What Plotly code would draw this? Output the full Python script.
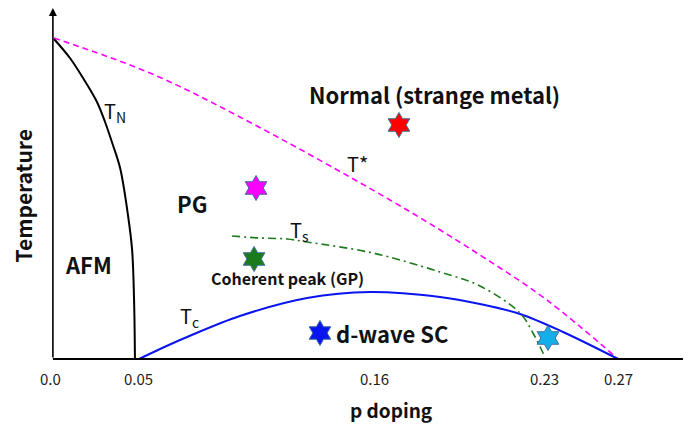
import plotly.graph_objects as go

# ---- data (doping p, temperature in arbitrary units) ----
tn_p = [0.0115, 0.0188, 0.0248, 0.0312, 0.0349, 0.0385, 0.0418, 0.0454, 0.0473, 0.0482, 0.0486]
tn_t = [320, 301, 281, 257, 237, 214, 191, 144, 109, 59, 0]

tstar_p = [0.0115, 0.0555, 0.0967, 0.1655, 0.2067, 0.2374, 0.2700]
tstar_t = [321, 286, 242, 159, 104, 59, 0]

tc_p = [0.0505, 0.0601, 0.0725, 0.0967, 0.1275, 0.1563, 0.1884, 0.2067, 0.2251, 0.2448, 0.2700]
tc_t = [0, 10, 22, 43, 61, 67, 62, 55, 45, 27, 0]

ts_p = [0.0931, 0.1059, 0.1183, 0.1275, 0.1577, 0.1884, 0.2067, 0.2251, 0.2310, 0.2365]
ts_t = [123, 121, 120, 117, 106, 87, 73, 46, 26, 2]

star_p = [0.1696, 0.1041, 0.1032, 0.1334, 0.2379]
star_t = [234, 171, 100, 26, 21]
star_colors = ["#FF0000", "#FF00FF", "#1B7A1B", "#0A14F0", "#14AEEA"]

tick_pos = [0.0097, 0.05, 0.1586, 0.2365, 0.27]
tick_labels = ["0.0", "0.05", "0.16", "0.23", "0.27"]

region_labels = ["Normal (strange metal)", "PG", "AFM", "Coherent peak (GP)", "d-wave SC"]
region_p = [0.1861, 0.0747, 0.0275, 0.1183, 0.1664]
region_t = [265, 156, 95, 81, 26]
region_size = [22, 22, 22, 16, 22]

line_labels = ["T<sub>N</sub>", "T*", "T<sub>s</sub>", "T<sub>c</sub>"]
line_label_p = [0.0395, 0.1508, 0.1242, 0.0735]
line_label_t = [248, 196, 129, 43]

axis_p0 = 0.011
# page has an 8px body margin, so the figure area starts 8px in
x_range = [-0.00958, 0.30344]
y_range = [-65, 351]
y_top = 351

FONT = "Noto Sans CJK KR"

fig = go.Figure()
fig.add_trace(go.Scatter(x=tn_p, y=tn_t, mode="lines", line=dict(color="black", width=2, shape="spline"),
                         hoverinfo="skip"))
fig.add_trace(go.Scatter(x=tstar_p, y=tstar_t, mode="lines",
                         line=dict(color="#FF00FF", width=1.6, dash="6px,4px", shape="spline"), hoverinfo="skip"))
fig.add_trace(go.Scatter(x=tc_p, y=tc_t, mode="lines", line=dict(color="#0A14F0", width=2, shape="spline"),
                         hoverinfo="skip"))
fig.add_trace(go.Scatter(x=ts_p, y=ts_t, mode="lines",
                         line=dict(color="#1B7A1B", width=1.6, dash="8px,4px,2px,4px", shape="spline"),
                         hoverinfo="skip"))
fig.add_trace(go.Scatter(x=star_p, y=star_t, mode="markers",
                         marker=dict(symbol="hexagram", size=19, color=star_colors,
                                     line=dict(color="#41719C", width=1)), hoverinfo="skip"))

# axes (drawn with arrow on the temperature axis)
fig.add_shape(type="line", x0=axis_p0, y0=0, x1=x_range[1], y1=0, line=dict(color="black", width=2))
fig.add_annotation(x=axis_p0, y=y_top, ax=axis_p0, ay=0, xref="x", yref="y", axref="x", ayref="y",
                   text="", showarrow=True, arrowhead=2, arrowsize=1, arrowwidth=1.6, arrowcolor="black")

for p, lab in zip(tick_pos, tick_labels):
    fig.add_annotation(x=p, y=0, yshift=-19, text=lab, showarrow=False,
                       font=dict(family=FONT, size=15, color="#222"))

for p, t, lab, s in zip(region_p, region_t, region_labels, region_size):
    fig.add_annotation(x=p, y=t, text="<b>%s</b>" % lab, showarrow=False,
                       font=dict(family=FONT, size=s, color="#111"))

for p, t, lab in zip(line_label_p, line_label_t, line_labels):
    fig.add_annotation(x=p, y=t, text=lab, showarrow=False,
                       font=dict(family=FONT, size=20, color="#111"))

fig.add_annotation(x=0.1664, y=0, yshift=-50, text="<b>p doping</b>", showarrow=False,
                   font=dict(family=FONT, size=19, color="#111"))
fig.add_annotation(x=-0.0025, y=163, text="<b>Temperature</b>", showarrow=False, textangle=-90,
                   font=dict(family=FONT, size=21, color="#111"))

fig.update_layout(
    width=683, height=416, margin=dict(l=0, r=0, t=0, b=0),
    plot_bgcolor="white", paper_bgcolor="white", showlegend=False,
    xaxis=dict(range=x_range, visible=False, fixedrange=True),
    yaxis=dict(range=y_range, visible=False, fixedrange=True),
)
fig.write_html("out.html")
